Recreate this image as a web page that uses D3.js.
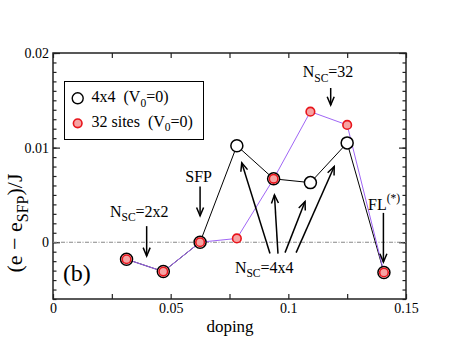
<!DOCTYPE html>
<html>
<head>
<meta charset="utf-8">
<script src="https://cdn.jsdelivr.net/npm/d3@7"></script>
<style>
  body { margin: 0; background: #fff; }
  svg text { font-family: "Liberation Serif", "Times New Roman", Times, serif !important; fill: #000; }
</style>
</head>
<body>
<script>
// doping values (holes per site) and energies relative to SFP
const doping = [0.03125, 0.046875, 0.0625, 0.078125, 0.09375, 0.109375, 0.125, 0.140625];
const e4x4   = [-0.0018, -0.0031, 0.0, 0.0102, 0.0067, 0.0063, 0.0105, -0.0032];
const e32    = [-0.0018, -0.0031, 0.0, 0.0004, 0.0067, 0.0138, 0.0124, -0.0032];

const xTickLabels = [0, 0.05, 0.1, 0.15];
const yTickLabels = [0, 0.01, 0.02];

const width = 457;
const height = 353;
const margin = { left: 53, right: 51, top: 53, bottom: 54 };
const serif = '"Liberation Serif", "Times New Roman", Times, serif';

const svg = d3.select("body").append("svg").attr("width", width).attr("height", height)
  .style("font-family", serif);

const xScale = d3.scaleLinear().domain([0, 0.15]).range([margin.left, width - margin.right]);
const yScale = d3.scaleLinear().domain([-0.006, 0.02]).range([height - margin.bottom, margin.top]);

const fmt = d3.format("~g");
const xMinor = d3.range(0, 0.1501, 0.025);
const yMinor = d3.range(-6, 21).map(d => d / 1000);

// axes: ticks point inward on all four sides
function axisG(axis, tx, ty) {
  const g = svg.append("g").attr("transform", `translate(${tx},${ty})`).call(axis);
  g.attr("font-family", null);
  g.select(".domain").remove();
  g.selectAll("line").attr("stroke", "#222").attr("stroke-width", 1.2);
  g.selectAll("text").attr("font-size", 14).attr("fill", "#000").style("font-family", serif);
  return g;
}
const bottomY = yScale.range()[0], topY = yScale.range()[1];
const leftX = xScale.range()[0], rightX = xScale.range()[1];

axisG(d3.axisBottom(xScale).tickValues(xMinor).tickSize(-5).tickFormat(""), 0, bottomY);
axisG(d3.axisBottom(xScale).tickValues(xTickLabels).tickSize(0).tickPadding(4).tickFormat(fmt), 0, bottomY);
axisG(d3.axisTop(xScale).tickValues(xMinor).tickSize(-5).tickFormat(""), 0, topY);
axisG(d3.axisLeft(yScale).tickValues(yMinor).tickSize(-3.5).tickFormat(""), leftX, 0);
axisG(d3.axisLeft(yScale).tickValues(yTickLabels).tickSize(-7).tickPadding(4).tickFormat(fmt), leftX, 0);
axisG(d3.axisRight(yScale).tickValues(yMinor).tickSize(-3.5).tickFormat(""), rightX, 0);
axisG(d3.axisRight(yScale).tickValues(yTickLabels).tickSize(-7).tickFormat(""), rightX, 0);

svg.append("rect")
  .attr("x", leftX).attr("y", topY)
  .attr("width", rightX - leftX).attr("height", bottomY - topY)
  .attr("fill", "none").attr("stroke", "#222").attr("stroke-width", 1.5);

// zero reference line (dash-dot)
svg.append("line")
  .attr("x1", leftX).attr("x2", rightX)
  .attr("y1", yScale(0)).attr("y2", yScale(0))
  .attr("stroke", "#888").attr("stroke-width", 1.2)
  .attr("stroke-dasharray", "4,1.5,1,1.5");

// series lines
const line = d3.line().x(d => xScale(d[0])).y(d => yScale(d[1]));
const pts4 = doping.map((d, i) => [d, e4x4[i]]);
const pts32 = doping.map((d, i) => [d, e32[i]]);

svg.append("path").attr("d", line(pts4)).attr("fill", "none").attr("stroke", "#000").attr("stroke-width", 1);
svg.append("path").attr("d", line(pts32)).attr("fill", "none").attr("stroke", "#a066f5").attr("stroke-width", 1);

svg.append("g").selectAll("circle").data(pts4).enter().append("circle")
  .attr("cx", d => xScale(d[0])).attr("cy", d => yScale(d[1])).attr("r", 6)
  .attr("fill", "#fff").attr("stroke", "#000").attr("stroke-width", 1.5);

svg.append("g").selectAll("circle").data(pts32).enter().append("circle")
  .attr("cx", d => xScale(d[0])).attr("cy", d => yScale(d[1])).attr("r", 4.3)
  .attr("fill", "#f6a3a3").attr("stroke", "#e8141b").attr("stroke-width", 1.6);

// annotation arrows, in data units: tail -> head
function arrow(x1, y1, x2, y2) {
  const px1 = xScale(x1), py1 = yScale(y1), px2 = xScale(x2), py2 = yScale(y2);
  const a = Math.atan2(py1 - py2, px1 - px2);
  const len = 9, spread = 0.4;
  const g = svg.append("g").attr("stroke", "#000").attr("stroke-width", 1.5).attr("fill", "none");
  g.append("line").attr("x1", px1).attr("y1", py1).attr("x2", px2).attr("y2", py2);
  g.append("path").attr("d",
    `M${px2 + len * Math.cos(a - spread)},${py2 + len * Math.sin(a - spread)}L${px2},${py2}L${px2 + len * Math.cos(a + spread)},${py2 + len * Math.sin(a + spread)}`);
}

arrow(0.0625, 0.0059, 0.0625, 0.0028);     // SFP
arrow(0.0398, 0.0017, 0.0398, -0.00145);   // 2x2
arrow(0.118, 0.0163, 0.118, 0.0145);       // 32
arrow(0.1404, 0.0031, 0.1404, -0.0021);    // FL
arrow(0.0922, -0.0012, 0.0802, 0.0084);    // 4x4 arrows
arrow(0.0956, -0.0012, 0.0941, 0.0050);
arrow(0.0986, -0.0011, 0.1071, 0.0043);
arrow(0.1033, -0.0011, 0.1195, 0.0080);

// labels with subscripts / superscripts
function label(x, y, parts, size) {
  const t = svg.append("text").attr("x", xScale(x)).attr("y", yScale(y)).attr("font-size", size);
  parts.forEach(p => {
    if (p.sub) t.append("tspan").attr("font-size", size * 0.72).attr("dy", size * 0.3).text(p.sub);
    else if (p.sup) t.append("tspan").attr("font-size", size * 0.72).attr("dy", -size * 0.45).text(p.sup);
    else t.append("tspan").attr("dy", p.dy || 0).text(p.t);
  });
  return t;
}
label(0.0562, 0.0064, [{ t: "SFP" }], 16);
label(0.0242, 0.0027, [{ t: "N" }, { sub: "SC" }, { t: "=2x2", dy: -16 * 0.3 }], 16);
label(0.1061, 0.01747, [{ t: "N" }, { sub: "SC" }, { t: "=32", dy: -16 * 0.3 }], 16);
label(0.0773, -0.0032, [{ t: "N" }, { sub: "SC" }, { t: "=4x4", dy: -16 * 0.3 }], 16);
label(0.1339, 0.00344, [{ t: "FL" }, { sup: "(*)" }], 16);
label(0.0042, -0.0041, [{ t: "(b)" }], 24);

// legend
const lg = svg.append("g");
lg.append("rect").attr("x", 64.5).attr("y", 81.5).attr("width", 139).attr("height", 58)
  .attr("fill", "#fff").attr("stroke", "#000").attr("stroke-width", 1);
lg.append("circle").attr("cx", 77.7).attr("cy", 98.3).attr("r", 5.5)
  .attr("fill", "#fff").attr("stroke", "#000").attr("stroke-width", 1.4);
lg.append("circle").attr("cx", 77.7).attr("cy", 123.3).attr("r", 4.3)
  .attr("fill", "#f6a3a3").attr("stroke", "#e8141b").attr("stroke-width", 1.6);
const legendNames = ["4x4", "32 sites"];
legendNames.forEach((n, i) => {
  const t = lg.append("text").attr("x", 91.5).attr("y", 102 + i * 24.5).attr("font-size", 16)
    .attr("xml:space", "preserve");
  t.append("tspan").text(n + "  (V");
  t.append("tspan").attr("font-size", 11.5).attr("dy", 4.5).text("0");
  t.append("tspan").attr("dy", -4.5).text("=0)");
});

// axis titles
svg.append("text").attr("x", 230).attr("y", 331.5).attr("text-anchor", "middle")
  .attr("font-size", 17).text("doping");

const yl = svg.append("text")
  .attr("transform", "translate(22,223) rotate(-90)")
  .attr("text-anchor", "middle").attr("font-size", 22);
yl.append("tspan").text("(e \u2212 e");
yl.append("tspan").attr("font-size", 16).attr("dy", 6).text("SFP");
yl.append("tspan").attr("dy", -6).text(")/J");
</script>
</body>
</html>
